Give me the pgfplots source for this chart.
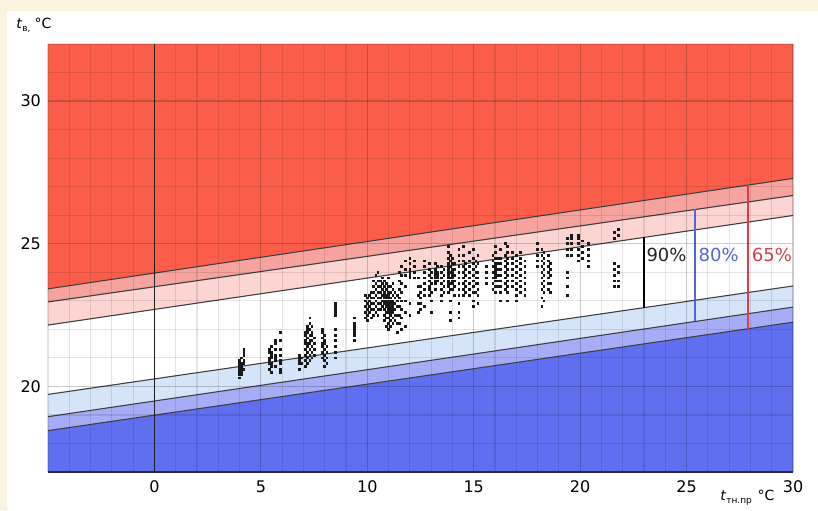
\documentclass[border=0pt]{standalone}
\usepackage{pgfplots}
\pgfplotsset{compat=1.18}
\usepackage{fontspec}
\setmainfont{DejaVu Sans}
\definecolor{cream}{RGB}{250,244,222}
\definecolor{redA}{RGB}{250,94,74}
\definecolor{redB}{RGB}{246,162,158}
\definecolor{redC}{RGB}{252,212,210}
\definecolor{bluC}{RGB}{214,228,250}
\definecolor{bluB}{RGB}{166,172,245}
\definecolor{bluA}{RGB}{96,110,240}
\definecolor{txtblue}{RGB}{88,104,214}
\definecolor{txtred}{RGB}{214,64,74}
\definecolor{lnblue}{RGB}{82,100,222}
\definecolor{lnred}{RGB}{222,60,72}
\definecolor{axnavy}{RGB}{40,40,72}
\begin{document}
\begin{tikzpicture}
\fill[cream] (-24pt,-19pt) rectangle (385pt,236pt);
\fill[white] (-20.5pt,-19pt) rectangle (385pt,230.5pt);
\begin{axis}[at={(0,0)}, anchor=south west, scale only axis,
  width=372.5pt, height=214pt,
  xmin=-5, xmax=30, ymin=17, ymax=32,
  xtick={0,5,...,30}, ytick={20,25,30},
  minor xtick={-5,-4,...,30}, minor ytick={17,18,...,32},
  grid=both,
  grid style={black, opacity=0.1, line width=0.6pt},
  major grid style={black, opacity=0.1, line width=0.6pt},
  minor grid style={black, opacity=0.1, line width=0.6pt},
  major tick length=0pt, minor tick length=0pt,
  axis x line*=bottom, axis y line*=left,
  x axis line style={line width=1.1pt, color=axnavy, -},
  y axis line style={draw=none},
  axis on top,
  tick label style={font=\fontsize{8}{9}\selectfont},
  /pgf/number format/assume math mode=true,
  xticklabel style={yshift=-1pt},
  clip=true]
% bands
\addplot[fill=redA, draw=none] coordinates {(-5,23.42) (30,27.29) (30,32) (-5,32)} --cycle;
\addplot[fill=redB, draw=none] coordinates {(-5,22.96) (30,26.69) (30,27.29) (-5,23.42)} --cycle;
\addplot[fill=redC, draw=none] coordinates {(-5,22.15) (30,25.99) (30,26.69) (-5,22.96)} --cycle;
\addplot[fill=bluC, draw=none] coordinates {(-5,18.94) (30,22.78) (30,23.52) (-5,19.72)} --cycle;
\addplot[fill=bluB, draw=none] coordinates {(-5,18.45) (30,22.25) (30,22.78) (-5,18.94)} --cycle;
\addplot[fill=bluA, draw=none] coordinates {(-5,17) (30,17) (30,22.25) (-5,18.45)} --cycle;
% boundaries
\addplot[black!75, line width=0.55pt] coordinates {(-5,23.42) (30,27.29)};
\addplot[black!75, line width=0.55pt] coordinates {(-5,22.96) (30,26.69)};
\addplot[black!75, line width=0.55pt] coordinates {(-5,22.15) (30,25.99)};
\addplot[black!75, line width=0.55pt] coordinates {(-5,19.72) (30,23.52)};
\addplot[black!75, line width=0.55pt] coordinates {(-5,18.94) (30,22.78)};
\addplot[black!75, line width=0.55pt] coordinates {(-5,18.45) (30,22.25)};
% zero line
\addplot[black!85, line width=0.8pt] coordinates {(0,17) (0,32)};
% percentage lines
\addplot[black, line width=1.1pt] coordinates {(23,22.76) (23,25.22)};
\addplot[lnblue, line width=1.1pt] coordinates {(25.4,22.28) (25.4,26.20)};
\addplot[lnred, line width=1.1pt] coordinates {(27.9,22.02) (27.9,27.06)};
\node[anchor=west, inner sep=0, font=\fontsize{9}{10}\selectfont, text=black!85] at (axis cs:23.1,24.6) {90\%};
\node[anchor=west, inner sep=0, font=\fontsize{9}{10}\selectfont, text=txtblue] at (axis cs:25.55,24.6) {80\%};
\node[anchor=west, inner sep=0, font=\fontsize{9}{10}\selectfont, text=txtred] at (axis cs:28.05,24.6) {65\%};
% scatter
\addplot[only marks, mark=square*, mark size=0.45pt, black!90] coordinates {
(4.0,20.3) (4.0,20.4) (4.0,20.5) (4.0,20.6) (4.0,20.7) (4.0,20.8) (4.0,20.9)
(4.1,20.4) (4.1,20.5) (4.1,20.6) (4.1,20.7) (4.1,20.8) (4.1,21.0)
(4.2,20.6) (4.2,20.8) (4.2,20.9) (4.2,21.1) (4.2,21.2) (4.2,21.3)
(5.4,20.6) (5.4,20.8) (5.4,20.9) (5.4,21.0) (5.4,21.2) (5.4,21.3)
(5.5,20.5) (5.5,20.7) (5.5,20.8) (5.5,21.0) (5.5,21.1) (5.5,21.2) (5.5,21.4)
(5.7,20.7) (5.7,20.9) (5.7,21.0) (5.7,21.1) (5.7,21.3) (5.7,21.5) (5.7,21.6)
(5.9,20.5) (5.9,20.6) (5.9,20.8) (5.9,20.9) (5.9,21.1) (5.9,21.3) (5.9,21.6) (5.9,21.9)
(6.8,20.6) (6.8,20.8) (6.8,20.9) (6.8,21.0) (6.8,21.1) (6.9,20.8) (6.9,21.0)
(7.1,20.7) (7.1,20.9) (7.1,21.1) (7.1,21.3) (7.1,21.5) (7.1,21.6) (7.1,21.8) (7.1,21.9)
(7.2,20.8) (7.2,21.0) (7.2,21.2) (7.2,21.4) (7.2,21.5) (7.2,21.7) (7.2,21.9) (7.2,22.0) (7.2,22.1)
(7.3,20.9) (7.3,21.1) (7.3,21.3) (7.3,21.5) (7.3,21.6) (7.3,21.8) (7.3,22.0) (7.3,22.2) (7.3,22.4)
(7.4,21.0) (7.4,21.2) (7.4,21.4) (7.4,21.6) (7.4,21.8) (7.4,21.9) (7.4,22.1)
(7.5,21.1) (7.5,21.3) (7.5,21.5) (7.5,21.7)
(7.9,21.0) (7.9,21.2) (7.9,21.4) (7.9,21.5) (7.9,21.7) (7.9,21.9) (7.9,22.0)
(8.0,20.7) (8.0,20.9) (8.0,21.1) (8.0,21.3) (8.0,21.5) (8.0,21.6) (8.0,21.8)
(8.1,20.8) (8.1,21.0) (8.1,21.2) (8.1,21.4)
(8.5,21.0) (8.5,21.2) (8.5,21.4) (8.5,21.6) (8.5,21.8) (8.5,22.0) (8.5,22.5) (8.5,22.6) (8.5,22.7) (8.5,22.8) (8.5,22.9)
(9.4,21.6) (9.4,21.8) (9.4,21.9) (9.4,22.0) (9.4,22.1) (9.4,22.2) (9.4,22.4)
(9.9,22.4) (9.9,22.6) (9.9,22.8) (9.9,23.0) (9.9,23.2)
(10.0,22.3) (10.0,22.5) (10.0,22.7) (10.0,22.9) (10.0,23.1)
(10.1,22.6) (10.1,22.8) (10.1,23.0) (10.1,23.2)
(10.2,22.4) (10.2,22.7) (10.2,22.9) (10.2,23.1) (10.2,23.3)
(10.3,22.5) (10.3,22.7) (10.3,22.9) (10.3,23.1) (10.3,23.3) (10.3,23.5) (10.3,23.7)
(10.4,22.6) (10.4,22.8) (10.4,23.0) (10.4,23.2) (10.4,23.4) (10.4,23.6) (10.4,23.9)
(10.5,22.5) (10.5,22.7) (10.5,22.9) (10.5,23.1) (10.5,23.3) (10.5,23.5) (10.5,23.7) (10.5,24.0)
(10.6,22.7) (10.6,22.9) (10.6,23.1) (10.6,23.3) (10.6,23.5) (10.6,23.7)
(10.7,22.8) (10.7,23.0) (10.7,23.2) (10.7,23.4) (10.7,23.6) (10.7,23.8)
(10.8,22.3) (10.8,22.5) (10.8,22.7) (10.8,22.9) (10.8,23.0) (10.8,23.1) (10.8,23.2) (10.8,23.3) (10.8,23.5) (10.8,23.7)
(10.9,22.1) (10.9,22.4) (10.9,22.6) (10.9,22.8) (10.9,22.9) (10.9,23.0) (10.9,23.1) (10.9,23.2) (10.9,23.4) (10.9,23.6)
(11.0,22.0) (11.0,22.2) (11.0,22.4) (11.0,22.6) (11.0,22.7) (11.0,22.8) (11.0,22.9) (11.0,23.0) (11.0,23.1) (11.0,23.2) (11.0,23.3) (11.0,23.5) (11.0,23.8)
(11.1,22.1) (11.1,22.3) (11.1,22.5) (11.1,22.6) (11.1,22.7) (11.1,22.8) (11.1,22.9) (11.1,23.0) (11.1,23.1) (11.1,23.3) (11.1,23.5)
(11.2,22.2) (11.2,22.4) (11.2,22.6) (11.2,22.7) (11.2,22.8) (11.2,22.9) (11.2,23.0) (11.2,23.2) (11.2,23.4) (11.2,23.6)
(11.3,22.3) (11.3,22.5) (11.3,22.7) (11.3,22.9) (11.3,23.1) (11.3,23.3)
(11.4,21.9) (11.4,22.2) (11.4,22.5) (11.4,22.8) (11.4,23.0) (11.4,23.2)
(11.5,22.2) (11.5,22.5) (11.5,22.8) (11.5,23.1) (11.5,23.4) (11.5,23.7) (11.5,24.0)
(11.6,22.0) (11.6,22.4) (11.6,22.7) (11.6,23.0) (11.6,23.3) (11.6,23.6) (11.6,23.9) (11.6,24.2)
(11.8,22.1) (11.8,22.6) (11.8,23.0) (11.8,23.5) (11.8,23.9) (11.8,24.1) (11.8,24.4)
(12.0,22.5) (12.0,22.9) (12.0,23.8) (12.0,23.9) (12.0,24.0) (12.0,24.1) (12.0,24.3) (12.0,24.5)
(12.2,23.8) (12.2,24.0) (12.2,24.2) (12.2,24.4)
(12.4,22.6) (12.4,22.9) (12.4,23.2) (12.4,23.5) (12.4,23.8)
(12.5,22.7) (12.5,22.9) (12.5,23.1) (12.5,23.3) (12.5,23.5)
(12.7,22.8) (12.7,23.2) (12.7,23.4) (12.7,23.6) (12.7,23.8) (12.7,24.0) (12.7,24.2) (12.7,24.4)
(12.9,23.2) (12.9,23.4) (12.9,23.5) (12.9,23.7) (12.9,23.9) (12.9,24.1) (12.9,24.3)
(13.0,22.6) (13.0,23.0) (13.0,23.3) (13.0,23.6) (13.0,23.8) (13.0,24.0)
(13.2,23.4) (13.2,23.6) (13.2,23.7) (13.2,23.8) (13.2,23.9) (13.2,24.0) (13.2,24.1) (13.2,24.3)
(13.3,23.7) (13.3,23.8) (13.3,23.9) (13.3,24.0) (13.3,24.2)
(13.5,23.0) (13.5,23.2) (13.5,23.4) (13.5,23.6) (13.5,23.8) (13.5,24.0) (13.5,24.2)
(13.6,23.3) (13.6,23.5) (13.6,23.7) (13.6,23.9) (13.6,24.1)
(13.8,23.3) (13.8,23.5) (13.8,23.6) (13.8,23.7) (13.8,23.8) (13.8,23.9) (13.8,24.0) (13.8,24.1) (13.8,24.2) (13.8,24.3) (13.8,24.5) (13.8,24.7) (13.8,24.9)
(13.9,22.3) (13.9,22.6) (13.9,23.0) (13.9,23.4) (13.9,23.6) (13.9,23.8) (13.9,24.0) (13.9,24.2) (13.9,24.4) (13.9,24.6)
(14.0,23.4) (14.0,23.6) (14.0,23.7) (14.0,23.8) (14.0,23.9) (14.0,24.0) (14.0,24.1) (14.0,24.3) (14.0,24.5)
(14.1,23.2) (14.1,23.5) (14.1,23.7) (14.1,23.9) (14.1,24.1) (14.1,24.3)
(14.3,22.4) (14.3,22.6) (14.3,22.9) (14.3,23.2) (14.3,23.4) (14.3,23.6) (14.3,23.8) (14.3,24.0) (14.3,24.2) (14.3,24.4) (14.3,24.6) (14.3,24.8)
(14.5,23.2) (14.5,23.4) (14.5,23.6) (14.5,23.8) (14.5,24.0) (14.5,24.2) (14.5,24.4) (14.5,24.6) (14.5,24.9)
(14.6,23.3) (14.6,23.5) (14.6,23.7) (14.6,23.9) (14.6,24.1) (14.6,24.3)
(14.8,23.2) (14.8,23.4) (14.8,23.6) (14.8,23.8) (14.8,24.0) (14.8,24.2) (14.8,24.4) (14.8,24.7)
(15.0,22.8) (15.0,23.0) (15.0,23.3) (15.0,23.5) (15.0,23.7) (15.0,23.9) (15.0,24.1) (15.0,24.3) (15.0,24.5) (15.0,24.8)
(15.1,23.3) (15.1,23.6) (15.1,23.8) (15.1,24.0) (15.1,24.2) (15.1,24.4)
(15.2,22.9) (15.2,23.2) (15.2,23.4) (15.2,23.6) (15.2,23.8) (15.2,24.0) (15.2,24.3) (15.2,24.6)
(15.6,23.6) (15.6,23.8) (15.6,24.0) (15.6,24.2)
(15.9,23.4) (15.9,23.6) (15.9,23.8) (15.9,24.0) (15.9,24.2) (15.9,24.4) (15.9,24.6)
(16.0,23.3) (16.0,23.5) (16.0,23.7) (16.0,23.8) (16.0,23.9) (16.0,24.0) (16.0,24.1) (16.0,24.2) (16.0,24.3) (16.0,24.5) (16.0,24.7) (16.0,24.9)
(16.1,23.5) (16.1,23.7) (16.1,23.9) (16.1,24.1) (16.1,24.3) (16.1,24.5)
(16.25,23.0) (16.25,23.3) (16.25,23.5) (16.25,23.7) (16.25,23.9) (16.25,24.1) (16.25,24.3) (16.25,24.5) (16.25,24.8)
(16.5,23.4) (16.5,23.6) (16.5,23.8) (16.5,24.0) (16.5,24.2) (16.5,24.4) (16.5,24.6) (16.5,25.0)
(16.6,23.0) (16.6,23.3) (16.6,23.5) (16.6,23.7) (16.6,23.9) (16.6,24.1) (16.6,24.3) (16.6,24.5) (16.6,24.7) (16.6,24.9)
(16.8,23.5) (16.8,23.7) (16.8,23.9) (16.8,24.1) (16.8,24.3) (16.8,24.5) (16.8,24.7)
(17.0,23.0) (17.0,23.2) (17.0,23.4) (17.0,23.6) (17.0,23.8) (17.0,24.0) (17.0,24.2) (17.0,24.4) (17.0,24.6)
(17.2,23.3) (17.2,23.5) (17.2,23.7) (17.2,23.9) (17.2,24.1) (17.2,24.3) (17.2,24.5) (17.2,24.7)
(17.4,23.2) (17.4,23.4) (17.4,23.6) (17.4,23.8) (17.4,24.0) (17.4,24.2) (17.4,24.4)
(18.0,24.2) (18.0,24.4) (18.0,24.6) (18.0,24.8) (18.0,25.0)
(18.2,22.8) (18.2,23.1) (18.2,23.4) (18.2,23.6) (18.2,23.8) (18.2,24.0) (18.2,24.2) (18.2,24.4) (18.2,24.6) (18.2,24.8)
(18.3,23.0) (18.3,23.3) (18.3,23.5) (18.3,23.7) (18.3,23.9) (18.3,24.1) (18.3,24.3) (18.3,24.5) (18.3,24.7)
(18.5,23.4) (18.5,23.6) (18.5,23.8) (18.5,24.0) (18.5,24.2) (18.5,24.4) (18.5,24.6)
(18.6,23.3) (18.6,23.6) (18.6,23.9) (18.6,24.1) (18.6,24.3)
(19.4,23.2) (19.4,23.5) (19.4,23.8) (19.4,24.0) (19.4,24.6) (19.4,24.8) (19.4,25.0) (19.4,25.2)
(19.6,24.6) (19.6,24.8) (19.6,25.0) (19.6,25.2) (19.6,25.3)
(19.9,24.4) (19.9,24.6) (19.9,24.8) (19.9,25.0) (19.9,25.2) (19.9,25.3)
(20.1,24.5) (20.1,24.7) (20.1,24.9) (20.1,25.1)
(20.4,24.2) (20.4,24.4) (20.4,24.6) (20.4,24.8) (20.4,25.0)
(21.6,23.5) (21.6,23.7) (21.6,23.9) (21.6,24.1) (21.6,24.3) (21.6,25.2) (21.6,25.4)
(21.8,23.5) (21.8,23.7) (21.8,24.0) (21.8,24.2) (21.8,25.3) (21.8,25.5)
};
\end{axis}
\node[anchor=base west, inner sep=0, font=\fontsize{7}{8}\selectfont] at (-16pt,222pt) {\textit{t}\raisebox{-0.5ex}{\fontsize{4.5}{5}\selectfont в,}\hspace{0.3em}°C};
\node[anchor=base west, inner sep=0, font=\fontsize{7}{8}\selectfont] at (336pt,-14pt) {\textit{t}\raisebox{-0.5ex}{\fontsize{4.5}{5}\selectfont тн.пр}\hspace{0.4em}°C};
\end{tikzpicture}
\end{document}
